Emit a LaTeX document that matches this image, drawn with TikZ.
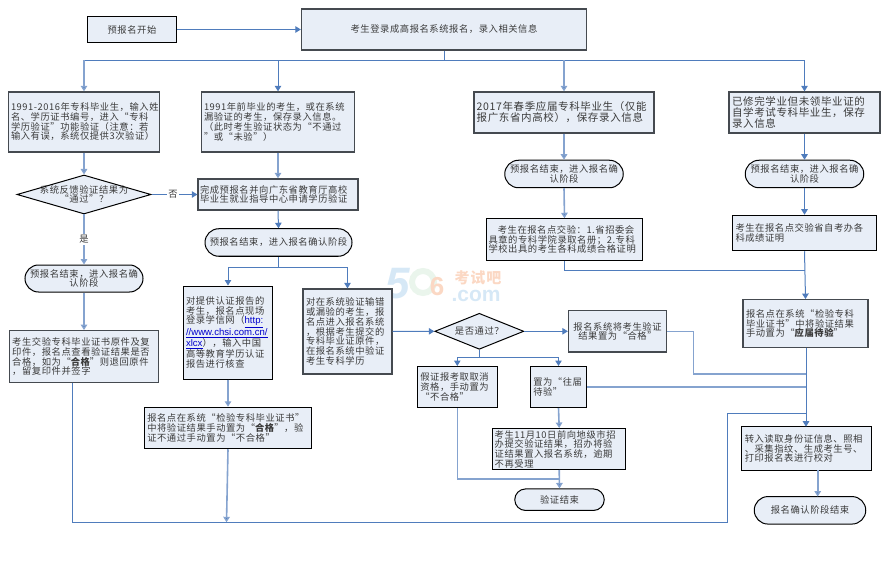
\documentclass[tikz,border=0pt]{standalone}
\usepackage{fontspec}
\usetikzlibrary{arrows.meta,shapes.geometric,shapes.misc,calc}
\setmainfont{Noto Sans CJK SC}[LetterSpace=6]
\newfontfamily\wmfont{Liberation Sans}
\newcommand{\zh}{\fontsize{9.3}{9.7}\selectfont}
\newcommand{\zhbig}{\fontsize{10.5}{10.9}\selectfont}
\newcommand{\urlpart}[1]{{\color{blue!80!black}\underline{\wmfont\fontsize{9.6}{9.7}\selectfont #1}}}
\definecolor{fillb}{HTML}{E8EEF7}
\definecolor{linkb}{HTML}{4F7CBC}
\definecolor{paleb}{HTML}{85A3CF}
\definecolor{edgeg}{HTML}{454A50}
\definecolor{txt}{HTML}{3A3A3A}
\definecolor{wmblue}{HTML}{D6E8F6}
\definecolor{wmgreen}{HTML}{EAF5EC}
\definecolor{wmorange}{HTML}{FBD8C4}
\tikzset{
  x=1pt,y=-1pt,
  base/.style={fill=fillb,text=txt,font=\zh,inner sep=0pt,align=left},
  bxg/.style={base,draw=edgeg,line width=1.3pt,rectangle,minimum width=#1},
  bxk/.style={base,draw=black,line width=1pt,rectangle,minimum width=#1},
  tw/.style={text width=#1},
  big/.style={font=\zhbig},
  termin/.style={base,draw=black,line width=1pt,rounded rectangle,minimum width=#1,align=center},
  choice/.style={fill=fillb,draw=black,line width=1pt,diamond,inner sep=0pt,aspect=3.4},
  flat/.style={text=txt,font=\zh,inner sep=0pt,align=center},
  conn/.style={draw=linkb,line width=1pt},
  arrow/.style={conn,-{Triangle[length=5.5pt,width=6.5pt]}},
  pale/.style={draw=paleb,line width=1.6pt},
  palearrow/.style={pale,-{Triangle[length=5.5pt,width=6.5pt,fill=linkb]}},
  lab/.style={fill=white,text=txt,font=\zh,inner sep=1pt},
}
\begin{document}
\begin{tikzpicture}
\useasboundingbox (0,0) rectangle (888,569);
% watermark
\node[text=wmblue,font=\wmfont\bfseries\itshape\fontsize{44}{44}\selectfont,inner sep=0pt] (wmfive) at (398,284) {5};
\draw[draw=wmgreen,line width=6pt] (423,282) circle (11);
\node[text=wmorange,font=\wmfont\bfseries\fontsize{26}{26}\selectfont,inner sep=0pt] (wmsix) at (437,287) {6};
\node[text=wmorange,font=\bfseries\fontsize{15}{15}\selectfont,inner sep=0pt] (wmname) at (478,278) {考试吧};
\node[text=wmblue,font=\wmfont\bfseries\fontsize{21}{21}\selectfont,inner sep=0pt] (wmcom) at (476,296) {.com};

% nodes
\node[bxk=89,minimum height=26,align=center] (start) at (132,29.5) {预报名开始};
\node[bxg=285,minimum height=41,align=center] (login) at (444,29.5) {考生登录成高报名系统报名，录入相关信息};

\node[bxg=151,minimum height=60,tw=146] (a1) at (84,122) {\mbox{1991-2016年专科毕业生，输入姓}\\名、学历证书编号，进入“专科\\学历验证”功能验证（注意：若\\输入有误，系统仅提供3次验证）};
\node[bxg=153,minimum height=60,tw=148] (b1) at (278,122) {1991年前毕业的考生，或在系统\\漏验证的考生，保存录入信息。\\（此时考生验证状态为“不通过\\”或“未验”）};
\node[bxg=180,minimum height=41,tw=174.6,big] (c1) at (564,112.5) {2017年春季应届专科毕业生（仅能\\报广东省内高校），保存录入信息};
\node[bxg=151,minimum height=41,tw=145,big] (d1) at (804.5,112.5) {已修完学业但未领毕业证的\\自学考试专科毕业生，保存\\录入信息};

\node[choice,minimum width=134,minimum height=39] (a2) at (84,194.5) {};
\node[flat] (a2t) at (84,194.5) {系统反馈验证结果为\\“通过”？};
\node[bxg=160,minimum height=31,tw=156] (b2) at (278,194.5) {完成预报名并向广东省教育厅高校\\毕业生就业指导中心申请学历验证};
\node[termin=147,minimum height=27.5] (b3) at (278.5,242.5) {预报名结束，进入报名确认阶段};
\node[termin=118,minimum height=27] (a3) at (84,278.5) {预报名结束，进入报名确\\认阶段};
\node[termin=118.5,minimum height=27.5] (c2) at (564,174) {预报名结束，进入报名确\\认阶段};
\node[termin=118.5,minimum height=27.5] (d2) at (804.5,174) {预报名结束，进入报名确\\认阶段};
\node[bxk=156,minimum height=41.5,tw=152] (c3) at (564.5,239.5) {\hspace*{1em}考生在报名点交验：1.省招委会\\具章的专科学院录取名册；2.专科\\学校出具的考生各科成绩合格证明};
\node[bxk=144,minimum height=35.5,tw=138] (d3) at (804.5,233) {考生在报名点交验省自考办各\\科成绩证明};

\node[bxg=149.5,minimum height=52,tw=143.5] (a4) at (84,356.7) {考生交验专科毕业证书原件及复\\印件，报名点查看验证结果是否\\合格，如为“{\bfseries 合格}”则退回原件\\，留复印件并签字};
\node[bxk=89,minimum height=93,tw=84] (i) at (228,332.5) {对提供认证报告的\\考生，报名点现场\\登录学信网（\urlpart{http:}\\\urlpart{//www.chsi.com.cn/}\\\urlpart{xlcx}），输入中国\\高等教育学历认证\\报告进行核查};
\node[bxg=89,minimum height=85,tw=83] (j) at (347.5,331.5) {对在系统验证输错\\或漏验的考生，报\\名点进入报名系统\\，根据考生提交的\\专科毕业证原件，\\在报名系统中验证\\考生专科学历};
\node[bxk=167.5,minimum height=41.5,tw=161.5] (k) at (228,428) {报名点在系统“检验专科毕业证书”\\中将验证结果手动置为“{\bfseries 合格}”，验\\证不通过手动置为“不合格”};

\node[choice,minimum width=89,minimum height=36] (e) at (479.3,331.3) {};
\node[flat] (et) at (479.3,331) {是否通过？};
\node[bxg=98,minimum height=41.5,align=center] (l) at (617.5,331.3) {报名系统将考生验证\\结果置为“合格”};
\node[bxk=80,minimum height=41,tw=74] (m) at (457.3,387) {假证报考取取消\\资格，手动置为\\“不合格”};
\node[bxk=55.5,minimum height=41,tw=50.5] (n) at (558.5,387) {置为“往届\\待验”};
\node[bxk=133,minimum height=41,tw=129] (o) at (559.2,449) {考生11月10日前向地级市招\\办提交验证结果，招办将验\\证结果置入报名系统，逾期\\不再受理};
\node[termin=89.5,minimum height=21.5] (end1) at (559.5,499.7) {验证结束};
\node[bxg=125,minimum height=48,tw=119] (p) at (805.5,323.7) {报名点在系统“检验专科\\毕业证书”中将验证结果\\手动置为“{\bfseries 应届待验}”};
\node[bxk=129.5,minimum height=43.5,tw=123.5] (q) at (806.5,448.5) {转入读取身份证信息、照相\\、采集指纹、生成考生号、\\打印报名表进行校对};
\node[termin=111.5,minimum height=27.5] (r) at (810,510.3) {报名确认阶段结束};

% junctions
\coordinate (t0) at (login.south |- 0,60.5);
\coordinate (tA) at (a1.north |- 0,60.5);
\coordinate (tB) at (b1.north |- 0,60.5);
\coordinate (tC) at (c1.north |- 0,60.5);
\coordinate (tD) at (d1.north |- 0,60.5);
\coordinate (sp) at (b3.south |- 0,267);
\coordinate (si) at (i.north |- 0,267);
\coordinate (sj) at (j.north |- 0,267);
\coordinate (eb) at (e.south |- 0,357.3);
\coordinate (em) at (m.north |- 0,357.3);
\coordinate (en) at (n.north |- 0,357.3);
\coordinate (bot) at (226.5,522.3);
\coordinate (a4out) at (72.5,382.7);
\coordinate (botL) at (72.5,522.3);
\coordinate (botR) at (727.7,522.3);
\coordinate (botT) at (727.7,413.3);
\coordinate (trunkT) at (806,413.3);
\coordinate (trunkL) at (806,374);
\coordinate (trunkN) at (806,387);
\coordinate (trunkP) at (806,347.7);
\coordinate (trunkQ) at (806,426.7);
\coordinate (cd) at (805,270.7);
\coordinate (ce) at (c3.south |- 0,270.7);
\coordinate (lT) at (693.3,331.3);
\coordinate (lB) at (693.3,374);
\coordinate (mB) at (457.3,478.7);
\coordinate (mE) at (559.2,478.7);
\coordinate (qOut) at (817.7,470.2);
\coordinate (rIn) at (817.7,496.6);

% connectors
\draw[arrow] (start) -- (login);
\draw[conn] (login.south) -- (t0);
\draw[conn] (tA) -- (tD);
\draw[palearrow] (tA) -- (a1.north);
\draw[arrow] (tB) -- (b1.north);
\draw[palearrow] (tC) -- (c1.north);
\draw[arrow] (tD) -- (d1.north);
\draw[palearrow] (a1.south) -- (a2.north);
\draw[palearrow] (b1.south) -- (b2.north);
\draw[palearrow] (c1.south) -- (c2.north);
\draw[arrow] (d1.south) -- (d2.north);
\draw[arrow] (a2.east) -- node[lab,pos=0.47] (no) {否} (b2.west);
\draw[palearrow] (a2.south) -- node[lab,pos=0.5] (yes) {是} (a3.north);
\draw[arrow] (b2.south) -- (b3.north);
\draw[conn] (b3.south) -- (sp);
\draw[conn] (si) -- (sj);
\draw[arrow] (si) -- (i.north);
\draw[arrow] (sj) -- (j.north);
\draw[palearrow] (a3.south) -- (a4.north);
\draw[palearrow] (c2.south) -- (c3.north);
\draw[arrow] (d2.south) -- (d3.north);
\draw[palearrow] (i.south) -- (k.north);
\draw[palearrow] (k.south) -- (bot);
\draw[arrow] (j.east) -- (e.west);
\draw[arrow] (e.east) -- (l.west);
\draw[conn] (e.south) -- (eb);
\draw[conn] (em) -- (en);
\draw[arrow] (em) -- (m.north);
\draw[arrow] (en) -- (n.north);
\draw[palearrow] (n.south) -- (o.north);
\draw[pale] (m.south) -- (mB) -- (mE);
\draw[palearrow] (o.south) -- (end1.north);
\draw[conn] (a4out) -- (botL) -- (botR) -- (botT) -- (trunkT);
\draw[conn] (c3.south) -- (ce) -- (cd);
\draw[arrow] (d3.south) -- (p.north);
\draw[pale] (l.east) -- (lT) -- (lB) -- (trunkL);
\draw[pale] (n.east |- trunkN) -- (trunkN);
\draw[arrow] (trunkP) -- (trunkQ);
\draw[palearrow] (qOut) -- (rIn);
\end{tikzpicture}
\end{document}
